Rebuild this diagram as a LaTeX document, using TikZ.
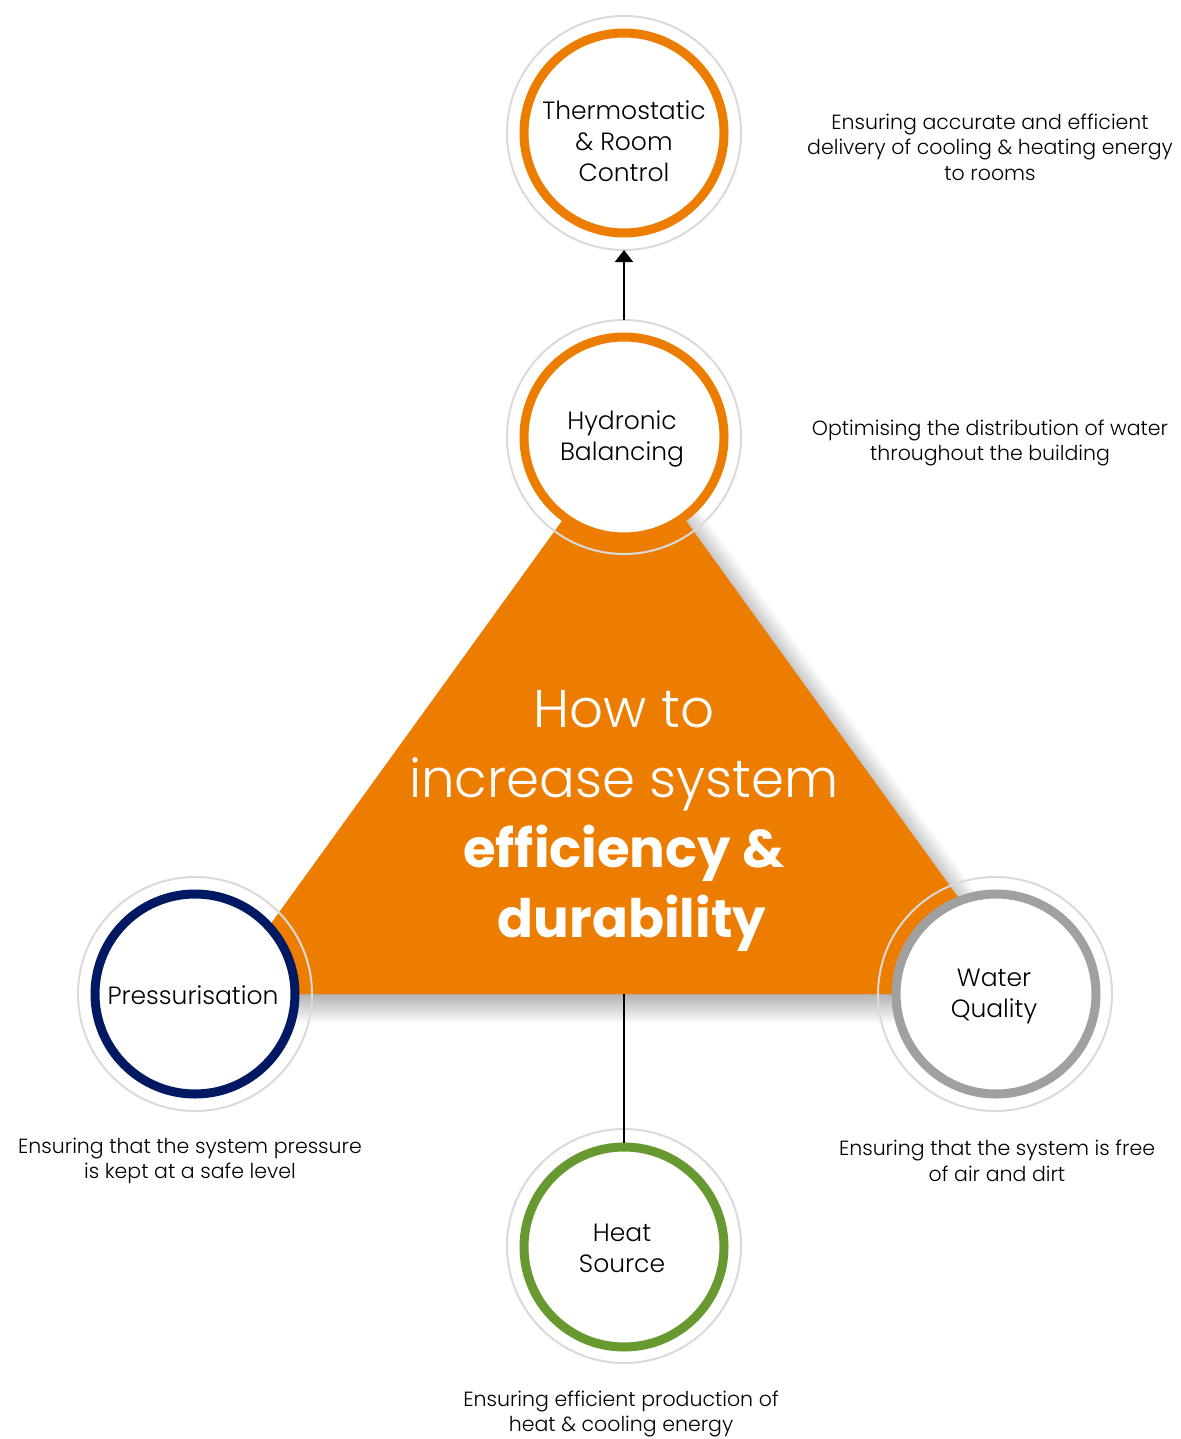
\documentclass[tikz,border=0pt]{standalone}
\usepackage{fontspec}
\setmainfont{Poppins}
\newfontfamily\plight{Poppins Light}
\usetikzlibrary{arrows.meta}
\definecolor{orng}{RGB}{237,125,0}
\definecolor{navy}{RGB}{0,25,98}
\definecolor{grn}{RGB}{104,153,48}
\definecolor{wgray}{RGB}{160,160,160}
\definecolor{halo}{RGB}{218,218,218}
\begin{document}
\begin{tikzpicture}[x=1pt,y=-1pt,
  halo/.style={circle,draw=halo,line width=2pt,minimum size=234pt,inner sep=0pt,outer sep=0pt},
  ring/.style={circle,draw=#1,fill=white,line width=9pt,minimum size=200pt,inner sep=0pt,outer sep=0pt},
  lbl/.style={align=center,inner sep=0pt,font=\plight\fontsize{25}{31}\selectfont},
  desc/.style={align=center,inner sep=0pt,font=\plight\fontsize{20.5}{25.5}\selectfont},
  conn/.style={line width=2pt,draw=black}]
\useasboundingbox (0,0) rectangle (1180,1439);
\fill[white] (0,0) rectangle (1180,1439);

% shadow below the base
\shade[top color=black!30, bottom color=white] (222,994) rectangle (1026,1024);
% shadow along the right side
\foreach \i in {1,...,18}{
  \fill[black, opacity=0.013, shift={(0.81*\i,-0.586*\i)}]
    (624,435) -- (1028,994) -- (624,994) -- cycle;
}
% central triangle
\fill[orng] (624,435) -- (1028,994) -- (220,994) -- cycle;
\coordinate (tb) at (624,994);

% halos
\node[halo] (tco) at (624,133) {};
\node[halo] (hbo) at (624,437) {};
\node[halo] (pro) at (195,994) {};
\node[halo] (wqo) at (995,994) {};
\node[halo] (hso) at (624,1246) {};

% rings
\node[ring=orng] (tc) at (624,133) {};
\node[ring=orng] (hb) at (624,437) {};
\node[ring=navy] (pr) at (195,994) {};
\node[ring=wgray] (wq) at (996,994) {};
\node[ring=grn] (hs) at (624,1247) {};

% connectors
\draw[conn,-{Triangle[width=18pt,length=12pt]}] (hbo.north) -- (tco.south);
\draw[conn,shorten >=4.5pt] (tb) -- (hs.north);

% labels
\node[lbl] (tcl) at (624,141) {Thermostatic\\\& Room\\Control};
\node[lbl] (hbl) at (622,439) {Hydronic\\Balancing};
\node[lbl] (prl) at (193,995) {Pressurisation};
\node[lbl] (wql) at (994,996) {Water\\Quality};
\node[lbl] (hsl) at (622,1248) {Heat\\Source};

% title
\node[align=center,inner sep=0pt,text=white,font=\plight\fontsize{53}{70}\selectfont] (title) at (624,821)
  {How to\\increase system\\{\rmfamily\bfseries efficiency \&}\\{\rmfamily\bfseries\hspace*{16pt}durability}};

% descriptions
\node[desc] (d1) at (990,147) {Ensuring accurate and efficient\\delivery of cooling \& heating energy\\to rooms};
\node[desc] (d2) at (990,443) {Optimising the distribution of water\\throughout the building};
\node[desc] (d3) at (190,1161) {Ensuring that the system pressure\\is kept at a safe level};
\node[desc] (d4) at (997,1161) {Ensuring that the system is free\\of air and dirt};
\node[desc] (d5) at (621,1414) {Ensuring efficient production of\\heat \& cooling energy};
\end{tikzpicture}
\end{document}
